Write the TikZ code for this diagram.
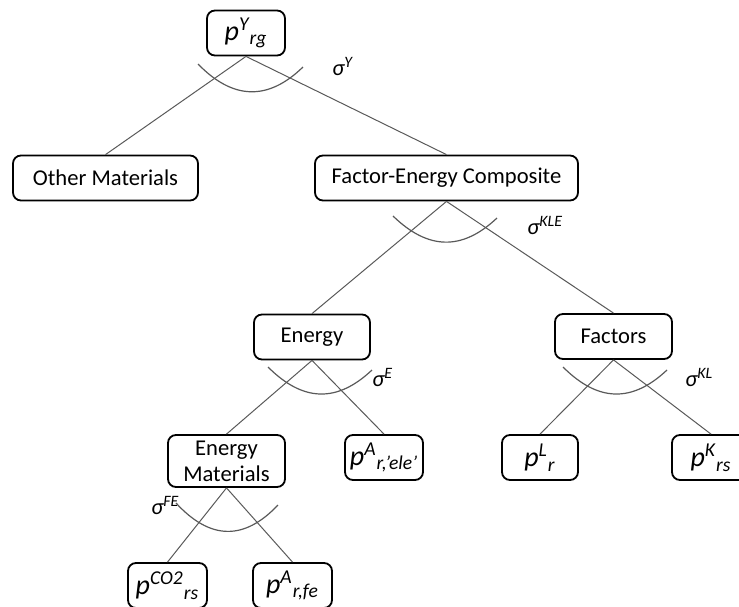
\documentclass[tikz,border=0pt]{standalone}
\usepackage{fontspec}
\setmainfont{Carlito}
\usepackage{tikz}
\usetikzlibrary{positioning}
\newcommand{\pvar}[2]{{\fontsize{14}{16}\selectfont\itshape p\textsuperscript{#1}\textsubscript{#2}}}
\newcommand{\sigvar}[1]{{\itshape σ\textsuperscript{#1}}}
\tikzset{%
	nest node/.style={
		draw,
		rounded corners=4pt,
		line width=0.9pt,
		minimum height=22.5pt,
		inner sep=1pt,
		align=center
	},
	nest link/.style={
		draw=black!65,
		line width=0.5pt
	},
	nest arc/.style={
		draw=black!65,
		line width=0.6pt
	},
	elasticity/.style={
		anchor=base west,
		inner sep=0pt
	},
}

\begin{document}
\begin{tikzpicture}[x=0.5pt, y=-0.5pt, font=\fontsize{11.3}{13}\selectfont]
		\useasboundingbox (0,0) rectangle (739,606);
		
		% Draw the nodes of the nest
		\node[nest node, minimum width=39pt] (pYrg) at (246,33) {\pvar{Y}{rg}};
		\node[nest node, minimum width=92.5pt] (other) at (105.5,178) {Other Materials};
		\node[nest node, minimum width=131.5pt] (fec) at (446.5,178) {Factor-Energy Composite};
		\node[nest node, minimum width=58pt] (energy) at (312,337) {Energy};
		\node[nest node, minimum width=58.5pt] (factors) at (613.5,336.5) {Factors};
		\node[nest node, minimum width=58.5pt, minimum height=26pt] (enmat) at (226.5,461) {Energy\\Materials};
		\node[nest node, minimum width=39pt] (pAele) at (384,457.5) {\pvar{A}{r,’ele’}};
		\node[nest node, minimum width=38pt] (pLr) at (540,457.5) {\pvar{L}{r}};
		\node[nest node, minimum width=39pt] (pKrs) at (711,457.5) {\pvar{K}{rs}};
		\node[nest node, minimum width=39.5pt] (pCOrs) at (167.5,585.5) {\pvar{CO2}{rs}};
		\node[nest node, minimum width=39.5pt] (pAfe) at (292.5,585.5) {\pvar{A}{r,fe}};
		
		% Draw the links
		\draw[nest link] (pYrg.south) -- (other.north);
		\draw[nest link] (pYrg.south) -- (fec.north);
		\draw[nest link] (fec.south) -- (energy.north);
		\draw[nest link] (fec.south) -- (factors.north);
		\draw[nest link] (energy.south) -- (enmat.north);
		\draw[nest link] (energy.south) -- (pAele.north);
		\draw[nest link] (factors.south) -- (pLr.north);
		\draw[nest link] (factors.south) -- (pKrs.north);
		\draw[nest link] (enmat.south) -- (pCOrs.north);
		\draw[nest link] (enmat.south) -- (pAfe.north);
		
		% Draw the elasticity arcs
		\draw[nest arc] (198,64) .. controls (233,100) and (268,101) .. (303,67);
		\draw[nest arc] (393,216) .. controls (428,250) and (462,251) .. (497,218);
		\draw[nest arc] (268,367) .. controls (303,402) and (337,403) .. (372,370);
		\draw[nest arc] (563,367) .. controls (598,402) and (632,403) .. (667,370);
		\draw[nest arc] (176,503) .. controls (210,540) and (244,541) .. (278,505);
		
		% Elasticity labels
		\node[elasticity] (sigY) at (332,75) {\sigvar{Y}};
		\node[elasticity] (sigKLE) at (527,234) {\sigvar{KLE}};
		\node[elasticity] (sigE) at (372,386) {\sigvar{E}};
		\node[elasticity] (sigKL) at (685,386) {\sigvar{KL}};
		\node[elasticity] (sigFE) at (151,514) {\sigvar{FE}};
	\end{tikzpicture}
\end{document}
